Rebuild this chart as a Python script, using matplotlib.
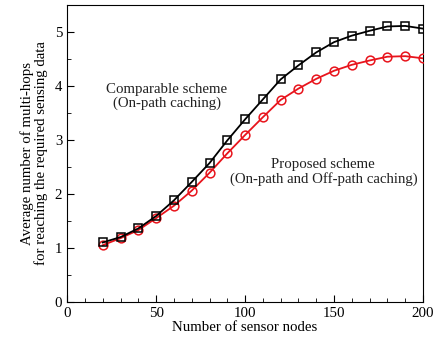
import matplotlib
matplotlib.use("Agg")
import matplotlib.pyplot as plt
from matplotlib.ticker import MultipleLocator

plt.rcParams["font.family"] = ["Liberation Serif", "DejaVu Serif"]

# ── Data ──────────────────────────────────────────────────────────────
nodes = [20, 30, 40, 50, 60, 70, 80, 90, 100, 110, 120, 130, 140, 150, 160, 170, 180, 190, 200]
comparable = [1.10, 1.20, 1.36, 1.59, 1.88, 2.22, 2.57, 2.99, 3.38, 3.75, 4.12,
              4.38, 4.62, 4.81, 4.93, 5.02, 5.10, 5.11, 5.06]
proposed = [1.05, 1.18, 1.33, 1.55, 1.78, 2.06, 2.39, 2.75, 3.09, 3.42, 3.74,
            3.95, 4.13, 4.28, 4.39, 4.47, 4.54, 4.55, 4.51]

fig = plt.figure(figsize=(4.42, 3.47), dpi=100)
ax = fig.add_axes([0.152, 0.130, 0.805, 0.856])

ax.plot(nodes, proposed, color="#e8141c", lw=1.3, marker="o", ms=6.3,
        mfc="none", mec="#e8141c", mew=1.1, zorder=3)
ax.plot(nodes, comparable, color="black", lw=1.3, marker="s", ms=6,
        mfc="none", mec="black", mew=1.1, zorder=4)

ax.text(56, 3.8, "Comparable scheme\n(On-path caching)", ha="center", va="center",
        fontsize=10.7, color="#222222", linespacing=1.1)
ax.text(144, 2.4, "Proposed scheme\n(On-path and Off-path caching)", ha="center",
        va="center", fontsize=10.7, color="#222222", linespacing=1.1)

ax.set_xlim(0, 200)
ax.set_ylim(0, 5.5)
ax.xaxis.set_major_locator(MultipleLocator(50))
ax.xaxis.set_minor_locator(MultipleLocator(10))
ax.yaxis.set_major_locator(MultipleLocator(1))
ax.yaxis.set_minor_locator(MultipleLocator(0.5))
ax.tick_params(which="both", direction="in", top=False, right=False, labelsize=10.7)
ax.tick_params(which="major", length=5)
ax.tick_params(which="minor", length=3)

ax.set_xlabel("Number of sensor nodes", fontsize=10.7, labelpad=1)
ax.set_ylabel("Average number of multi-hops\nfor reaching the required sensing data",
              fontsize=10.7, labelpad=5, linespacing=1.0)

fig.savefig("out.png", dpi=100)
